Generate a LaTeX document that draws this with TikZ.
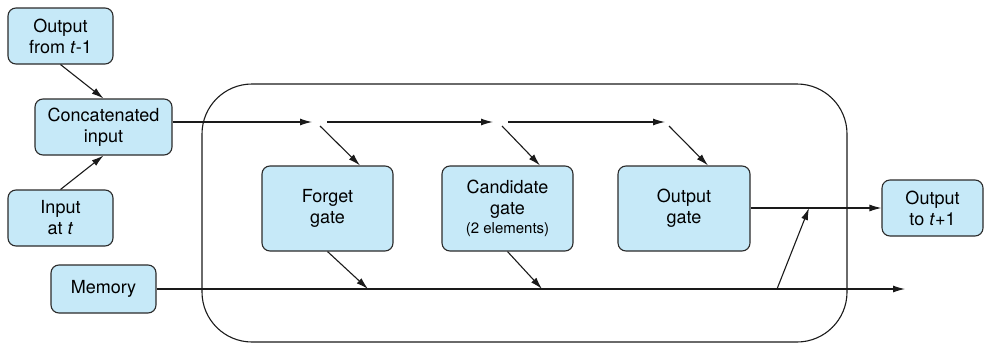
\documentclass[tikz,border=0pt]{standalone}
\usepackage{fontspec}
\setmainfont{TeX Gyre Heros}
\usetikzlibrary{arrows.meta,calc}
\definecolor{boxfill}{HTML}{C6E9F8}
\definecolor{boxline}{HTML}{2B2B2B}
\definecolor{ln}{HTML}{1A1A1A}
\tikzset{
  box/.style={draw=boxline, fill=boxfill, line width=1.1pt, rounded corners=8pt,
    align=center, inner sep=0pt, font=\fontsize{18}{21}\selectfont},
  arr/.style={draw=ln, line width=1.1pt, -{Latex[length=12pt,width=7pt]}},
  plain/.style={draw=ln, line width=1.1pt},
}
\begin{document}
\begin{tikzpicture}[x=1pt,y=-1pt]
\useasboundingbox (0,0) rectangle (984,343);
% frame
\draw[plain] (202,84) [rounded corners=50pt] rectangle (847,342);
% nodes
\node[box, minimum width=105pt, minimum height=56pt] (out1) at (60.5,36) {Output\\from \textit{t}-1};
\node[box, minimum width=137pt, minimum height=56pt] (cat) at (103.5,127) {Concatenated\\input};
\node[box, minimum width=105pt, minimum height=56pt] (inp) at (60.5,218) {Input\\at \textit{t}};
\node[box, minimum width=105pt, minimum height=48pt] (mem) at (103.5,289) {Memory};
\node[box, minimum width=131pt, minimum height=85pt] (fg) at (327.5,208.5) {Forget\\gate};
\node[box, minimum width=131pt, minimum height=85pt] (cg) at (507.5,208.5) {Candidate\\gate\\[-2pt]{\fontsize{15}{17}\selectfont (2 elements)}};
\node[box, minimum width=132pt, minimum height=85pt] (og) at (684,208.5) {Output\\gate};
\node[box, minimum width=101pt, minimum height=56pt] (out2) at (932.5,208) {Output\\to \textit{t}+1};
% coordinates
\coordinate (t1) at (312,122);
\coordinate (t1b) at (327,122);
\coordinate (t2) at (493,122);
\coordinate (t2b) at (508,122);
\coordinate (t3) at (665,122);
\coordinate (d1) at (320,126);
\coordinate (d2) at (502,126);
\coordinate (d3) at (669,126);
\coordinate (m1) at (368,289);
\coordinate (m2) at (542,289);
\coordinate (mu) at (777,289);
\coordinate (oj) at (809,208);
\coordinate (mend) at (905,289);
% connectors
\draw[arr] (out1.south) -- (cat.north);
\draw[arr] (inp.north) -- (cat.south);
\draw[arr] (cat.east |- t1) -- (t1);
\draw[arr] (t1b) -- (t2);
\draw[arr] (t2b) -- (t3);
\draw[arr] (d1) -- (fg.north -| 360,0);
\draw[arr] (d2) -- (cg.north -| 540,0);
\draw[arr] (d3) -- (og.north -| 708,0);
\draw[arr] (fg.south) -- (m1);
\draw[arr] (cg.south) -- (m2);
\draw[arr] (mem.east) -- (mend);
\draw[arr] (mu) -- (oj);
\draw[arr] (og.east |- out2.west) -- (out2.west);
\end{tikzpicture}
\end{document}
